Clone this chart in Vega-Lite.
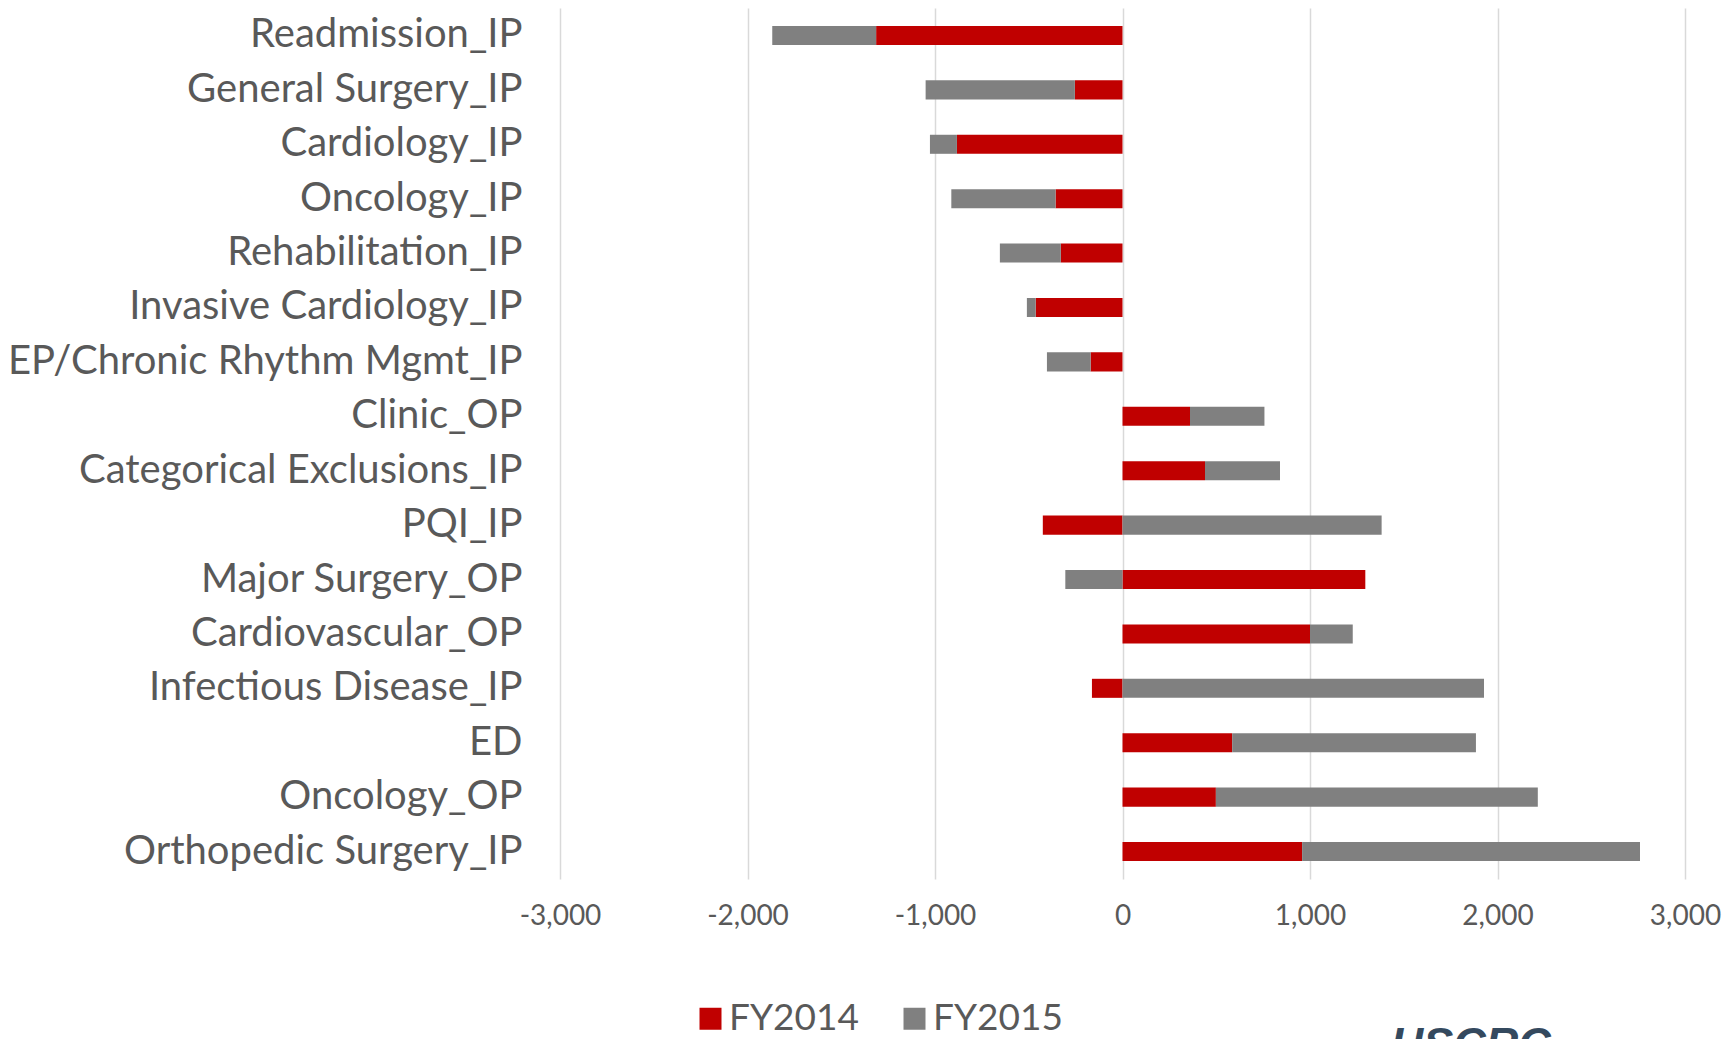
{
  "$schema": "https://vega.github.io/schema/vega-lite/v6.json",
  "width": 1125,
  "height": 871,
  "autosize": {"type": "none"},
  "padding": {"left": 560, "top": 8, "right": 49, "bottom": 160},
  "background": "white",
  "title": {
    "text": "HSCRC",
    "orient": "bottom",
    "anchor": "end",
    "dx": -170,
    "offset": -14,
    "fontSize": 45,
    "fontStyle": "italic",
    "fontWeight": "bold",
    "font": "Liberation Sans",
    "color": "#34495e"
  },
  "data": {
    "values": [
      {"category": "Readmission_IP", "year": "FY2014", "value": -1314},
      {"category": "Readmission_IP", "year": "FY2015", "value": -554},
      {"category": "General Surgery_IP", "year": "FY2014", "value": -254},
      {"category": "General Surgery_IP", "year": "FY2015", "value": -796},
      {"category": "Cardiology_IP", "year": "FY2014", "value": -883},
      {"category": "Cardiology_IP", "year": "FY2015", "value": -144},
      {"category": "Oncology_IP", "year": "FY2014", "value": -357},
      {"category": "Oncology_IP", "year": "FY2015", "value": -556},
      {"category": "Rehabilitation_IP", "year": "FY2014", "value": -329},
      {"category": "Rehabilitation_IP", "year": "FY2015", "value": -325},
      {"category": "Invasive Cardiology_IP", "year": "FY2014", "value": -463},
      {"category": "Invasive Cardiology_IP", "year": "FY2015", "value": -47},
      {"category": "EP/Chronic Rhythm Mgmt_IP", "year": "FY2014", "value": -170},
      {"category": "EP/Chronic Rhythm Mgmt_IP", "year": "FY2015", "value": -233},
      {"category": "Clinic_OP", "year": "FY2014", "value": 360},
      {"category": "Clinic_OP", "year": "FY2015", "value": 397},
      {"category": "Categorical Exclusions_IP", "year": "FY2014", "value": 440},
      {"category": "Categorical Exclusions_IP", "year": "FY2015", "value": 400},
      {"category": "PQI_IP", "year": "FY2014", "value": -425},
      {"category": "PQI_IP", "year": "FY2015", "value": 1382},
      {"category": "Major Surgery_OP", "year": "FY2014", "value": 1295},
      {"category": "Major Surgery_OP", "year": "FY2015", "value": -305},
      {"category": "Cardiovascular_OP", "year": "FY2014", "value": 1000},
      {"category": "Cardiovascular_OP", "year": "FY2015", "value": 228},
      {"category": "Infectious Disease_IP", "year": "FY2014", "value": -163},
      {"category": "Infectious Disease_IP", "year": "FY2015", "value": 1928},
      {"category": "ED", "year": "FY2014", "value": 585},
      {"category": "ED", "year": "FY2015", "value": 1300},
      {"category": "Oncology_OP", "year": "FY2014", "value": 498},
      {"category": "Oncology_OP", "year": "FY2015", "value": 1717},
      {"category": "Orthopedic Surgery_IP", "year": "FY2014", "value": 958},
      {"category": "Orthopedic Surgery_IP", "year": "FY2015", "value": 1802}
    ]
  },
  "mark": {"type": "bar"},
  "encoding": {
    "y": {
      "field": "category",
      "type": "nominal",
      "sort": null,
      "scale": {"paddingInner": 0.65, "paddingOuter": 0.33},
      "axis": {
        "title": null,
        "domain": false,
        "ticks": false,
        "tickSize": 0,
        "grid": false,
        "labelFont": "Lato",
        "labelFontSize": 40,
        "labelColor": "#595959",
        "labelPadding": 38,
        "labelLimit": 1000
      }
    },
    "x": {
      "field": "value",
      "type": "quantitative",
      "stack": "zero",
      "scale": {"domain": [-3000, 3000], "nice": false},
      "axis": {
        "title": null,
        "values": [-3000, -2000, -1000, 0, 1000, 2000, 3000],
        "labelExpr": "datum.value < 0 ? '-' + format(-datum.value, ',') : format(datum.value, ',')",
        "labelFlush": false,
        "labelOverlap": false,
        "domain": false,
        "ticks": false,
        "tickSize": 0,
        "grid": true,
        "gridColor": "#d9d9d9",
        "gridWidth": 1.5,
        "labelFont": "Lato",
        "labelFontSize": 28,
        "labelColor": "#595959",
        "labelPadding": 23
      }
    },
    "color": {
      "field": "year",
      "type": "nominal",
      "scale": {"domain": ["FY2014", "FY2015"], "range": ["#c00000", "#808080"]},
      "legend": {
        "title": null,
        "orient": "none",
        "direction": "horizontal",
        "legendX": 132,
        "legendY": 992,
        "padding": 0,
        "symbolType": "square",
        "symbolSize": 484,
        "symbolStrokeWidth": 0,
        "labelFont": "Lato",
        "labelFontSize": 37,
        "labelColor": "#595959",
        "labelOffset": 0,
        "columnPadding": 37
      }
    },
    "order": {"field": "year", "type": "nominal", "sort": "ascending"}
  },
  "config": {
    "view": {"stroke": null}
  }
}
